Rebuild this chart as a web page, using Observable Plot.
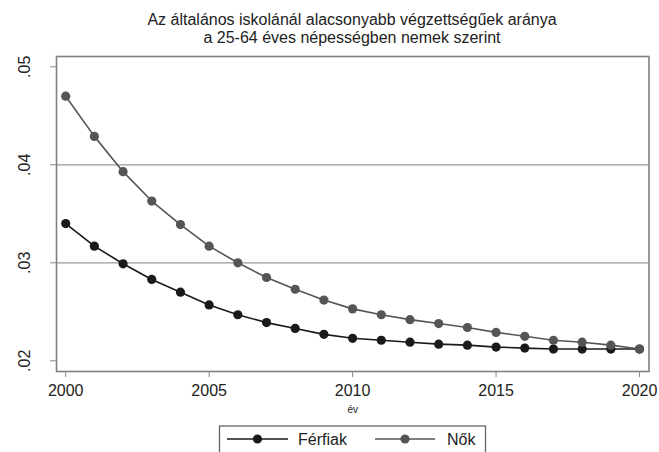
<!DOCTYPE html>
<html>
<head>
<meta charset="utf-8">
<script src="https://cdn.jsdelivr.net/npm/d3@7"></script>
<script src="https://cdn.jsdelivr.net/npm/@observablehq/plot@0.6"></script>
<style>
  html, body { margin: 0; padding: 0; background: #fff; }
  #wrap { position: relative; width: 659px; height: 452px; overflow: hidden; font-family: "Liberation Sans", Arial, sans-serif; color: #222; }
  .tline { position: absolute; left: 45px; width: 614px; text-align: center; font-size: 16px; line-height: 18.4px; height: 18.4px; white-space: nowrap; }
  #chart { position: absolute; top: 48px; left: 0; }
  #legend { position: absolute; top: 420px; left: 0; }
</style>
</head>
<body>
<div id="wrap">
  <div id="title"></div>
  <div id="chart"></div>
  <div id="legend"></div>
</div>
<script>
const titleLines = ["Az általános iskolánál alacsonyabb végzettségűek aránya", "a 25-64 éves népességben nemek szerint"];
const xLabel = "év";
const years = [2000, 2001, 2002, 2003, 2004, 2005, 2006, 2007, 2008, 2009, 2010, 2011, 2012, 2013, 2014, 2015, 2016, 2017, 2018, 2019, 2020];
const seriesNames = ["Férfiak", "Nők"];
const ferfiak = [0.0340, 0.0317, 0.0299, 0.0283, 0.0270, 0.0257, 0.0247, 0.0239, 0.0233, 0.0227, 0.0223, 0.0221, 0.0219, 0.0217, 0.0216, 0.0214, 0.0213, 0.0212, 0.0212, 0.0212, 0.0212];
const nok = [0.0470, 0.0429, 0.0393, 0.0363, 0.0339, 0.0317, 0.0300, 0.0285, 0.0273, 0.0262, 0.0253, 0.0247, 0.0242, 0.0238, 0.0234, 0.0229, 0.0225, 0.0221, 0.0219, 0.0216, 0.0212];
const xTicks = [2000, 2005, 2010, 2015, 2020];
const yTicks = [0.02, 0.03, 0.04, 0.05];
const yTickLabels = [".02", ".03", ".04", ".05"];
const gridValues = [0.03, 0.04];
const seriesColors = ["#1a1a1a", "#555555"];

const titleEl = document.getElementById("title");
titleLines.forEach((t, i) => {
  const d = document.createElement("div");
  d.className = "tline";
  d.style.top = (10.5 + i * 18.7) + "px";
  d.textContent = t;
  titleEl.appendChild(d);
});

const rows = [];
years.forEach((yr, i) => {
  rows.push({year: yr, value: ferfiak[i], series: seriesNames[0]});
});
years.forEach((yr, i) => {
  rows.push({year: yr, value: nok[i], series: seriesNames[1]});
});
const yLabelRows = yTicks.map((v, i) => ({v, label: yTickLabels[i]}));

const chart = Plot.plot({
  width: 659,
  height: 372,
  marginTop: 8,
  marginBottom: 49,
  marginLeft: 56,
  marginRight: 10.5,
  style: {fontFamily: "'Liberation Sans', Arial, sans-serif", fontSize: "16px", color: "#222", background: "white"},
  x: {domain: [1999.68, 2020.33]},
  y: {domain: [0.01891, 0.05105]},
  color: {domain: seriesNames, range: seriesColors},
  marks: [
    Plot.ruleY(gridValues, {stroke: "#999", strokeWidth: 1.2}),
    Plot.frame({stroke: "#808080", strokeWidth: 1.6}),
    Plot.axisX({ticks: xTicks, tickSize: 6, tickPadding: 7.5, tickFormat: d => String(d), stroke: "#888", fill: "#222", fontSize: 16, label: null}),
    Plot.axisY({ticks: yTicks, tickSize: 6, tickFormat: () => "", stroke: "#888", label: null}),
    Plot.text(yLabelRows, {y: "v", text: "label", frameAnchor: "left", dx: -27, rotate: -90, textAnchor: "middle", lineAnchor: "bottom", fontSize: 16, fill: "#222"}),
    Plot.text([xLabel], {text: d => d, frameAnchor: "bottom", dy: 41, lineAnchor: "bottom", fontSize: 10, fill: "#222"}),
    Plot.line(rows, {x: "year", y: "value", z: "series", stroke: "series", strokeWidth: 1.6}),
    Plot.dot(rows, {x: "year", y: "value", fill: "series", r: 4.6, stroke: "none"})
  ]
});
document.getElementById("chart").appendChild(chart);

// Legend
const lg = d3.select("#legend").append("svg").attr("width", 659).attr("height", 32)
  .style("font-family", "'Liberation Sans', Arial, sans-serif");
lg.append("rect").attr("x", 219.5).attr("y", 6).attr("width", 266).attr("height", 40)
  .attr("fill", "white").attr("stroke", "#666").attr("stroke-width", 1.3);
const items = [
  {name: seriesNames[0], color: seriesColors[0], x0: 227, x1: 288, tx: 298},
  {name: seriesNames[1], color: seriesColors[1], x0: 375, x1: 435, tx: 447}
];
const ly = 19;
items.forEach(it => {
  lg.append("line").attr("x1", it.x0).attr("x2", it.x1).attr("y1", ly).attr("y2", ly)
    .attr("stroke", it.color).attr("stroke-width", 1.6);
  lg.append("circle").attr("cx", (it.x0 + it.x1) / 2).attr("cy", ly).attr("r", 4.6).attr("fill", it.color);
  lg.append("text").attr("x", it.tx).attr("y", ly).attr("dy", "0.35em").attr("font-size", 16).attr("fill", "#222").text(it.name);
});
</script>
</body>
</html>
